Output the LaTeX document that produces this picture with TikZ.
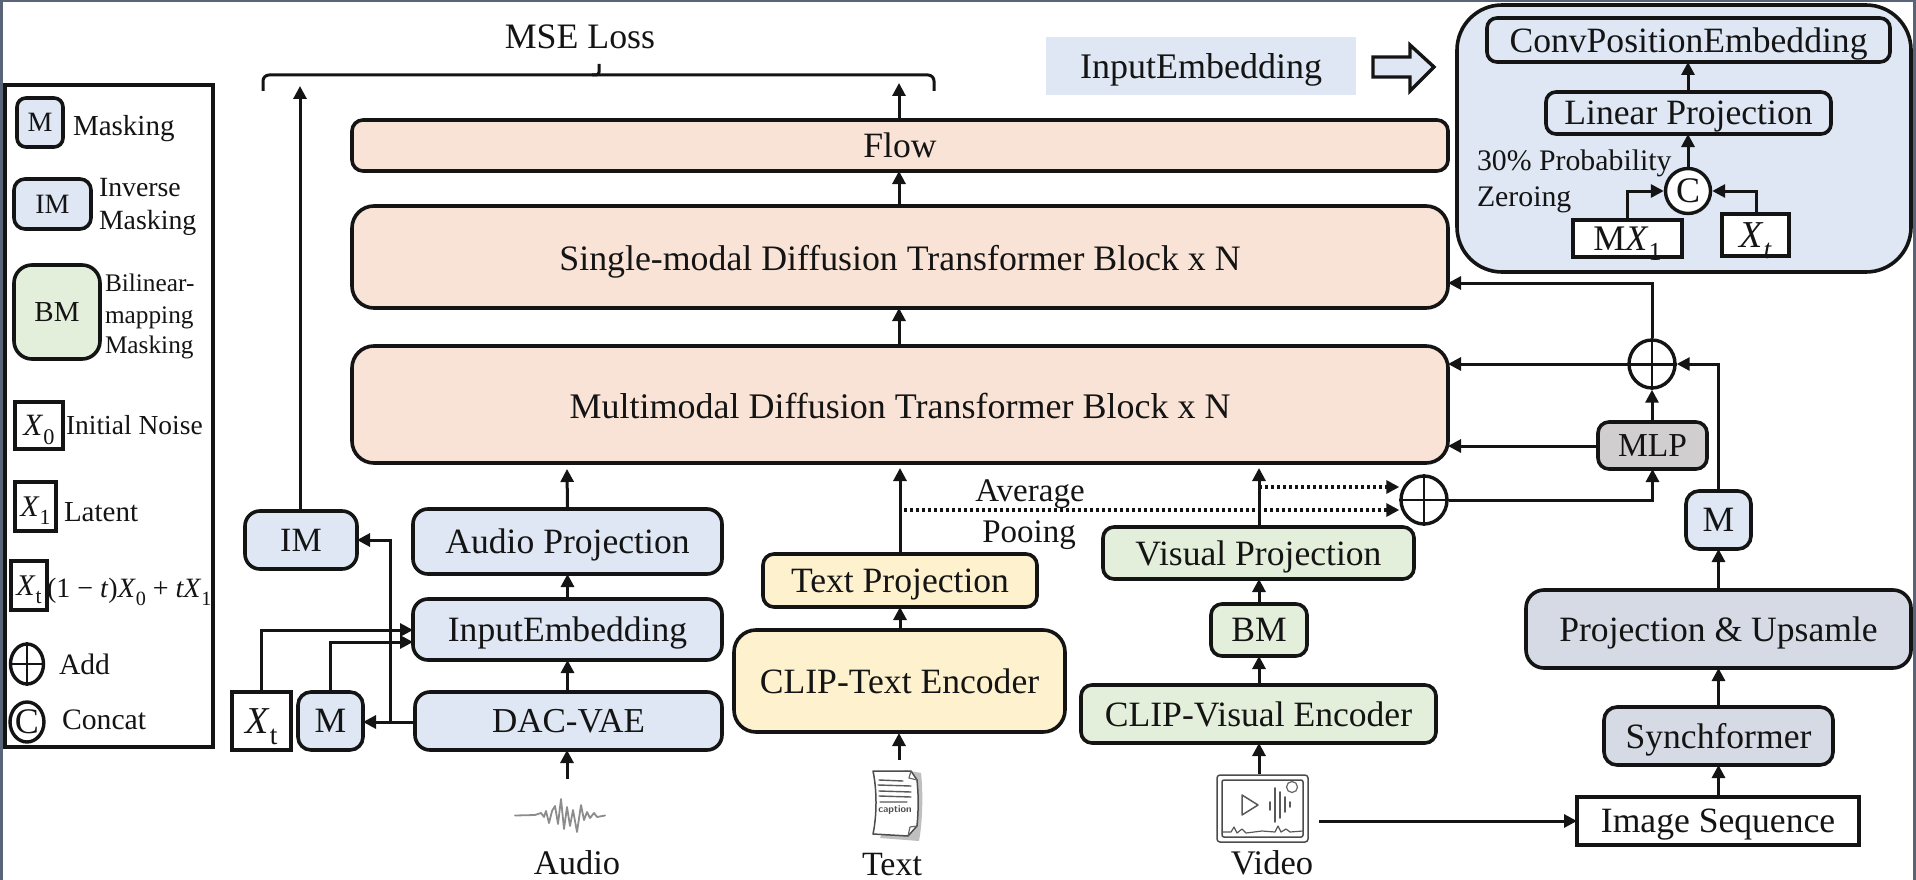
\documentclass[tikz,border=0pt]{standalone}
\usepackage{fontspec}
\setmainfont{Liberation Serif}
\usetikzlibrary{arrows.meta,calc,shapes.geometric}
\definecolor{peach}{HTML}{F8E3D6}
\definecolor{bluef}{HTML}{DEE7F3}
\definecolor{greenf}{HTML}{E3EEDB}
\definecolor{yellowf}{HTML}{FDF1CE}
\definecolor{slatef}{HTML}{D6DAE4}
\definecolor{greyf}{HTML}{D0CECE}
\definecolor{edgeb}{HTML}{5A6478}
\definecolor{ink}{HTML}{141414}
\newcommand{\fsz}[1]{\fontsize{#1}{#1}\selectfont}
\newcommand{\ital}[1]{\textit{#1}}
\newcommand{\subs}[1]{\raisebox{-0.28em}{\scalebox{0.72}{#1}}}
% \bx{name}{style}{x1}{y1}{x2}{y2}{text}
\newcommand{\bx}[7]{\node[base,#2,minimum width={(#5-#3)*1pt},minimum height={(#6-#4)*1pt}] (#1) at ({(#3+#5)/2},{(#4+#6)/2}) {#7};}
\tikzset{
  base/.style={draw=ink,line width=3.6pt,inner sep=0pt,outer sep=0pt,text=ink,font=\fsz{35.6},align=center,text depth=0pt},
  rc/.style={rounded corners=#1},
  sq/.style={line width=3.4pt,fill=white},
  arr/.style={draw=ink,line width=3pt,-{Triangle[length=13pt,width=13pt]}},
  dotarr/.style={draw=ink,line width=3.2pt,dash pattern=on 3.4pt off 2.6pt,-{Triangle[length=13pt,width=13pt]}},
  plain/.style={draw=ink,line width=3pt},
  lbl/.style={inner sep=0pt,outer sep=0pt,text=ink,anchor=west,align=left,text depth=0pt},
  ctr/.style={inner sep=0pt,outer sep=0pt,text=ink,anchor=center,text depth=0pt},
  plusnode/.style={draw=ink,line width=3.4pt,ellipse,inner sep=0pt},
  icon/.style={draw=#1,line cap=round,line join=round},
}
\begin{document}
\begin{tikzpicture}[x=1pt,y=-1pt]
\useasboundingbox (0,0) rectangle (1916,880);
% image frame
\fill[edgeb] (0,0) rectangle (1916,2);
\fill[edgeb] (0,0) rectangle (3,880);
\fill[edgeb] (1913,0) rectangle (1916,880);

% legend
\bx{legend}{sq}{5}{85}{213}{747}{}
\bx{lgM}{fill=bluef,rc=9pt}{17}{98}{63}{147}{\fsz{28}M}
\node[lbl,font=\fsz{29}] (tM) at (73,125) {Masking};
\bx{lgIM}{fill=bluef,rc=11pt}{14}{179}{91}{229}{\fsz{28}IM}
\node[lbl,font=\fsz{27.8}] (tIa) at (99,187) {Inverse};
\node[lbl,font=\fsz{27.8}] (tIb) at (99,220) {Masking};
\bx{lgBM}{fill=greenf,rc=18pt}{14}{265}{100}{359}{\fsz{29}BM}
\node[lbl,font=\fsz{25.3}] (tBa) at (105,283) {Bilinear-};
\node[lbl,font=\fsz{25.3}] (tBb) at (105,315) {mapping};
\node[lbl,font=\fsz{25.3}] (tBc) at (105,345) {Masking};
\bx{lgX}{sq}{15}{402}{63}{449}{\fsz{31}\ital{X}\subs{0}}
\node[lbl,font=\fsz{27.5}] (tX) at (66,425) {Initial Noise};
\bx{lgY}{sq}{15}{482}{56}{531}{\fsz{30}\ital{X}\subs{1}}
\node[lbl,font=\fsz{29}] (tY) at (64,512) {Latent};
\bx{lgT}{sq}{11}{561}{47}{610}{\fsz{30}\ital{X}\subs{t}}
\node[lbl,font=\fsz{28}] (tT) at (47,588) {(1 − \ital{t})\ital{X}\subs{0} + \ital{tX}\subs{1}};
\node[plusnode,minimum width=33pt,minimum height=40pt] (lgAdd) at (27,664) {};
\draw[plain,line width=2.6pt] (lgAdd.north) -- (lgAdd.south) (lgAdd.west) -- (lgAdd.east);
\node[lbl,font=\fsz{29.6}] (tAdd) at (59,664) {Add};
\node[plusnode,minimum width=33pt,minimum height=40pt,font=\fsz{36},text=ink,text depth=0pt] (lgC) at (27,722) {C};
\node[lbl,font=\fsz{29.7}] (tC) at (62,720) {Concat};

% main blocks
\bx{flow}{fill=peach,rc=11pt}{352}{120}{1448}{171}{Flow}
\bx{single}{fill=peach,rc=22pt}{352}{206}{1448}{308}{\raisebox{-2pt}{\fsz{35.8}Single-modal Diffusion Transformer Block x N}}
\bx{multi}{fill=peach,rc=22pt}{352}{346}{1448}{463}{\raisebox{-2pt}{\fsz{36}Multimodal Diffusion Transformer Block x N}}

% audio column
\bx{im}{fill=bluef,rc=15pt}{245}{511}{357}{569}{\fsz{34}IM}
\bx{aproj}{fill=bluef,rc=15pt}{413}{509}{722}{574}{Audio Projection}
\bx{input}{fill=bluef,rc=15pt}{413}{599}{722}{660}{InputEmbedding}
\bx{dac}{fill=bluef,rc=15pt}{415}{692}{722}{750}{\fsz{35}DAC-VAE}
\bx{xt}{sq}{232}{692}{291}{750}{\fsz{38}\ital{X}\subs{t}}
\bx{mA}{fill=bluef,rc=13pt}{298}{692}{363}{750}{M}

% text column
\bx{tproj}{fill=yellowf,rc=11pt}{763}{554}{1037}{607}{Text Projection}
\bx{clipt}{fill=yellowf,rc=22pt}{734}{630}{1065}{732}{CLIP-Text Encoder}

% visual column
\bx{vproj}{fill=greenf,rc=11pt}{1103}{527}{1414}{579}{Visual Projection}
\bx{bm}{fill=greenf,rc=11pt}{1211}{604}{1307}{656}{BM}
\bx{clipv}{fill=greenf,rc=11pt}{1081}{685}{1436}{743}{CLIP-Visual Encoder}

% right column
\bx{imgseq}{sq}{1577}{797}{1859}{845}{Image Sequence}
\bx{sync}{fill=slatef,rc=13pt}{1604}{707}{1833}{765}{Synchformer}
\bx{pu}{fill=slatef,rc=18pt}{1526}{590}{1911}{668}{Projection \& Upsamle}
\bx{mB}{fill=bluef,rc=13pt}{1686}{491}{1751}{549}{M}
\bx{mlp}{fill=greyf,rc=11pt}{1598}{422}{1707}{469}{\fsz{33.5}MLP}
\node[plusnode,fill=white,minimum width=46pt,minimum height=48pt] (addTop) at (1652,364) {};
\node[plusnode,fill=white,minimum width=46pt,minimum height=48pt] (addLow) at (1424,500) {};

% top embedding key
\node[fill=bluef,inner sep=0pt,minimum width=310pt,minimum height=58pt,font=\fsz{36},text=ink,text depth=0pt] (ie) at (1201,66) {InputEmbedding};
\draw[draw=ink,line width=3.4pt,fill=bluef,line join=miter] (1373,57) -- (1410,57) -- (1410,45) -- (1434,67) -- (1410,91) -- (1410,77) -- (1373,77) -- cycle;

% panel
\bx{panel}{fill=bluef,rc=45pt}{1457}{5}{1911}{272}{}
\bx{conv}{fill=bluef,rc=10pt}{1487}{18}{1890}{62}{ConvPositionEmbedding}
\bx{linp}{fill=bluef,rc=10pt}{1546}{92}{1831}{134}{Linear Projection}
\node[lbl,font=\fsz{29.8}] (p30) at (1477,160) {30\% Probability};
\node[lbl,font=\fsz{29.8}] (pz) at (1477,197) {Zeroing};
\node[draw=ink,line width=3.4pt,circle,fill=white,inner sep=0pt,minimum size=45pt,font=\fsz{36},text=ink,text depth=0pt] (cc) at (1688,191) {C};
\bx{mx}{sq}{1573}{220}{1682}{257}{\fsz{36}M\ital{X}\subs{1}}
\bx{xtp}{sq}{1722}{214}{1789}{256}{\fsz{38}\ital{X}\subs{\ital{t}}}

% labels
\node[ctr,font=\fsz{35.8}] (mse) at (580,37) {MSE Loss};
\node[ctr,font=\fsz{33}] (avg) at (1030,491) {Average};
\node[ctr,font=\fsz{33}] (poo) at (1029,532) {Pooing};
\node[ctr,font=\fsz{34.5}] (la) at (577,863) {Audio};
\node[ctr,font=\fsz{34}] (lt) at (892,864) {Text};
\node[ctr,font=\fsz{34.5}] (lv) at (1272,863) {Video};

% bracket
\coordinate (brL) at (263,91);
\coordinate (brR) at (934,91);
\coordinate (brM) at (599,64);
\draw[plain,rounded corners=6pt] (brL) -- (263,75) -- (934,75) -- (brR);
\draw[plain,rounded corners=3pt] (592,75) -- (599,75) -- (brM);

% free ends
\coordinate (imTop) at (300,86);
\coordinate (flowUp) at (899,83);
\coordinate (multiIn) at (567,469);
\coordinate (audioSrc) at (567,779);
\coordinate (textSrc) at (899,760);
\coordinate (videoTop) at (1259,774);
\coordinate (videoR) at (1319,821);
\coordinate (branch) at (390,722);

% connectors
\draw[arr] (im.north -| imTop) -- (imTop);
\draw[arr] (flow.north -| flowUp) -- (flowUp);
\draw[arr] (single.north -| flowUp) -- (flow.south -| flowUp);
\draw[arr] (multi.north -| flowUp) -- (single.south -| flowUp);
\draw[arr] (aproj.north) -- (multiIn);
\draw[arr] (input.north) -- (aproj.south);
\draw[arr] (dac.north -| input) -- (input.south);
\draw[arr] (audioSrc) -- (dac.south -| audioSrc);
\draw[arr] (dac.west |- branch) -- (mA.east |- branch);
\draw[arr] (branch) -- (390,540) -- (im.east |- 390,540);
\draw[arr] (xt.north) -- (xt.north |- 0,630) -- (input.west |- 0,630);
\draw[arr] (mA.north) -- (mA.north |- 0,642) -- (input.west |- 0,642);
\draw[arr] (tproj.north) -- ($(multi.south -| tproj.north)+(0,5)$);
\draw[arr] (clipt.north -| tproj) -- (tproj.south);
\draw[arr] (textSrc) -- ($(clipt.south -| textSrc)+(0,1)$);
\draw[arr] (vproj.north -| videoTop) -- ($(multi.south -| videoTop)+(0,5)$);
\draw[arr] (bm.north -| videoTop) -- (vproj.south -| videoTop);
\draw[arr] (clipv.north -| videoTop) -- (bm.south -| videoTop);
\draw[arr] (videoTop) -- (clipv.south -| videoTop);
\draw[arr] (videoR) -- (imgseq.west |- videoR);
\draw[arr] (imgseq.north -| sync) -- (sync.south);
\draw[arr] (sync.north) -- (pu.south -| sync);
\draw[arr] (pu.north -| mB) -- (mB.south);
\draw[arr] (mB.north) -- (mB.north |- addTop) -- (addTop.east);
\draw[arr] (addTop.east) -- (multi.east |- addTop);
\draw[arr] (addTop.north) -- (addTop.north |- 0,283) -- (single.east |- 0,283);
\draw[arr] (mlp.north -| addTop) -- (addTop.south);
\draw[arr] (mlp.west |- 0,446) -- (multi.east |- 0,446);
\draw[arr] (addLow.east) -- (addLow -| mlp) -- (mlp.south);
\draw[plain,line width=2.6pt] (addTop.north) -- (addTop.south);
\draw[plain,line width=2.6pt] (addLow.north) -- (addLow.south) (addLow.west) -- (addLow.east);
\draw[dotarr] (1259,487) -- (addLow.west |- 0,487);
\draw[dotarr] (904,510) -- (addLow.west |- 0,510);
\draw[arr] (linp.north -| cc) -- (conv.south -| cc);
\draw[arr] (cc.north) -- (linp.south -| cc);
\draw[arr] (1627,220) -- (1627,191) -- (cc.west);
\draw[arr] (1756,214) -- (1756,191) -- (cc.east);

% waveform icon
\draw[icon=black!45,line width=1.8pt] (515,815.5) -- (535,815) -- (541,813) -- (544,817) -- (546,811) -- (549,823) -- (552,811) -- (555,806) -- (558,824) -- (561,799) -- (564,829) -- (567,807) -- (570,826) -- (573,810) -- (577,832) -- (581,805) -- (584,820) -- (587,812) -- (590,818) -- (594,813) -- (597,817) -- (605,815.5);

% text icon
\fill[black!25] (880,838) -- (919,841) .. controls (923,820) and (923,790) .. (921,773) -- (905,770) -- cycle;
\draw[icon=black!70,line width=1.5pt,fill=white] (873,771) -- (911,771) -- (917,780) .. controls (919,800) and (918,815) .. (917,826) -- (908,836) -- (873,834) .. controls (877,815) and (877,790) .. (873,771) -- cycle;
\draw[icon=black!60,line width=1.2pt] (908,836) -- (910,827) -- (917,826) (911,771) -- (909,778) -- (917,780);
\draw[icon=black!65,line width=1.4pt] (879,780) -- (903,781) (878,785) -- (911,786) (879,791) -- (911,792) (879,796) -- (911,797) (880,802) -- (907,802);
\node[ctr,font=\bfseries\sffamily\fsz{10},text=black!70] (capt) at (895,809) {caption};

% video icon
\draw[icon=black!70,line width=1.5pt,rounded corners=3pt,fill=white] (1217,775) rectangle (1308,842);
\draw[icon=black!70,line width=1.5pt,rounded corners=2pt] (1222,780) rectangle (1303,837);
\draw[icon=black!65,line width=1.5pt] (1242,795) -- (1242,815) -- (1258,805) -- cycle;
\draw[icon=black!65,line width=1.6pt] (1270,802) -- (1270,810) (1275,788) -- (1275,822) (1280,792) -- (1280,818) (1285,797) -- (1285,812) (1290,802) -- (1290,807);
\draw[icon=black!60,line width=1.2pt] (1292,787) circle (5.5pt);
\draw[icon=black!65,line width=1.2pt] (1222,832) -- (1231,832) -- (1234,827) -- (1237,833) -- (1242,829) -- (1246,833) -- (1262,831) -- (1275,832) -- (1278,826) -- (1281,832) -- (1286,829) -- (1290,832) -- (1303,831);
\end{tikzpicture}
\end{document}
